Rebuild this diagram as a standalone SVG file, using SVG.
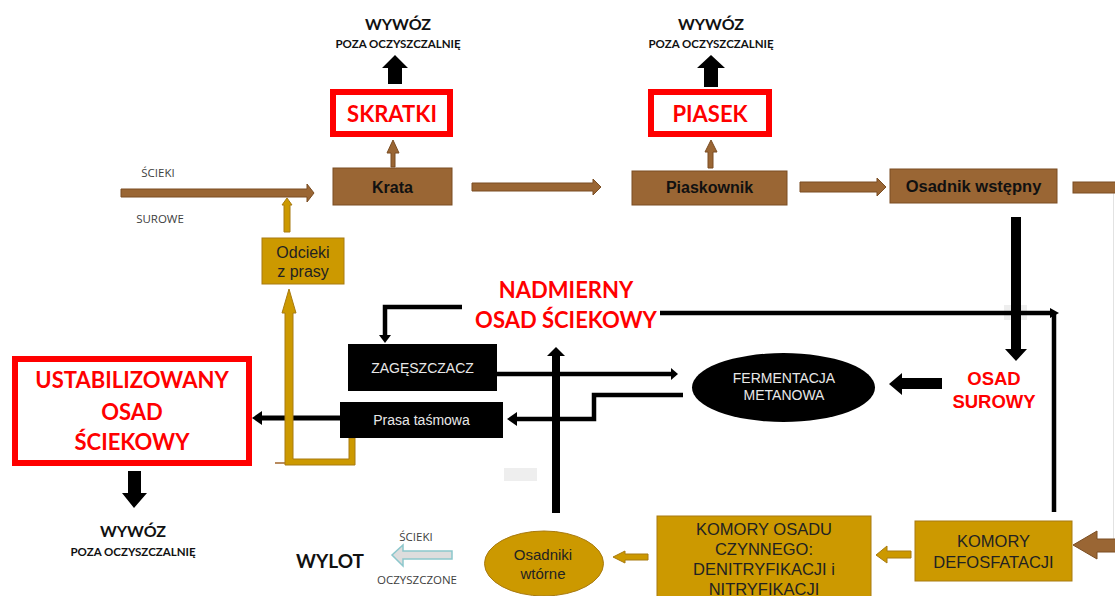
<svg xmlns="http://www.w3.org/2000/svg" width="1115" height="596" viewBox="0 0 1115 596">
<defs>
<style>
.lato{font-family:Lato,"Open Sans","Liberation Sans",sans-serif;font-weight:700}
.ar{font-family:"Liberation Sans",Arial,sans-serif}
.red{fill:#ff0000}
.brown{fill:#9a6634;stroke:#7a4d22;stroke-width:1}
.gold{fill:#cc9900;stroke:#a87a10;stroke-width:1}
.blk{fill:#000}
.redbox{fill:#fff;stroke:#ff0000;stroke-width:6}
.small{font-family:"Open Sans",Lato,"Liberation Sans",sans-serif;font-size:11.5px;fill:#404040}
.line{stroke:#000;stroke-width:4.5;fill:none}
</style>
</defs>
<rect width="1115" height="596" fill="#fff"/>

<g id="artifacts">
<rect x="1004" y="305" width="23" height="15" fill="#eeeeee"/>
<rect x="504" y="468" width="33" height="13" fill="#eeeeee"/>
<line x1="1113.5" y1="193" x2="1113.5" y2="540" stroke="#e2e2e2" stroke-width="1"/>
</g>

<g id="connectors">
<polygon class="brown" points="121,189 307,189 307,184 314,193 307,202 307,197 121,197"/>
<polygon class="brown" points="472,183 593,183 593,179 601,187 593,195 593,191 472,191"/>
<polygon class="brown" points="800,182 877,182 877,178 886,187 877,196 877,192 800,192"/>
<rect class="brown" x="1073" y="182" width="44" height="11"/>
<polygon class="brown" points="391,167 391,153 387,153 393,140 399,153 395,153 395,167"/>
<polygon class="brown" points="708,168 708,152 705,152 711,140 717,152 713,152 713,168"/>
<polygon class="gold" points="284,232 284,205 282,205 287,198 292,205 290,205 290,232"/>
<polygon class="blk" points="388,84 388,68 382,68 395,55 408,68 402,68 402,84"/>
<polygon class="blk" points="704,87 704,68 697,68 711,55 725,68 718,68 718,87"/>
<polygon class="blk" points="128,471 141,471 141,493 147,493 134,508 122,493 128,493"/>
<polygon class="blk" points="1011,217 1021,217 1021,349 1027,349 1016,361 1005,349 1011,349"/>
<polygon class="blk" points="942,378 942,389 902,389 902,395 889,384 902,373 902,378"/>
<polyline class="line" points="462,307 385,307 385,336"/>
<polygon class="blk" points="379,335 391,335 385,343"/>
<line class="line" x1="660" y1="313" x2="1052" y2="313"/>
<polygon class="blk" points="1050,308 1059,313 1050,318"/>
<line class="line" x1="1054" y1="313" x2="1054" y2="512"/>
<line class="line" x1="497" y1="374" x2="672" y2="374"/>
<polygon class="blk" points="671,368 678,374 671,380"/>
<polyline class="line" points="683,395 594,395 594,419 515,419"/>
<polygon class="blk" points="517,412 507,419 517,426"/>
<line x1="556" y1="355" x2="556" y2="513" stroke="#000" stroke-width="8"/>
<polygon class="blk" points="547,356 556,347 565,356"/>
<line x1="340" y1="418" x2="260" y2="418" stroke="#000" stroke-width="5"/>
<polygon class="blk" points="262,411 252,418 262,425"/>
<line x1="275" y1="463" x2="290" y2="463" stroke="#a0642a" stroke-width="1.5"/>
<polygon class="gold" points="349,438 355,438 355,465 285,465 285,313 282,313 289,289 296,313 293,313 293,459 349,459"/>
<polygon fill="#dddddd" stroke="#8cc7cc" stroke-width="1.5" points="452,551 452,559 403,559 403,566 392,555 403,545 403,551"/>
<polygon class="gold" points="648,554 648,560 625,560 625,563 613,557 625,551 625,554"/>
<polygon class="gold" points="911,551 911,558 887,558 887,563 876,555 887,546 887,551"/>
<polygon class="brown" points="1117,539 1097,539 1097,531 1073,545 1097,559 1097,552 1117,552"/>
</g>

<g id="wywoz1">
<text class="lato" x="398" y="30" font-size="16" text-anchor="middle" fill="#111">WYWÓZ</text>
<text class="lato" x="398" y="48" font-size="11.5" text-anchor="middle" fill="#111">POZA OCZYSZCZALNIĘ</text>
</g>
<g id="wywoz2">
<text class="lato" x="711" y="30" font-size="16" text-anchor="middle" fill="#111">WYWÓZ</text>
<text class="lato" x="711" y="48" font-size="11.5" text-anchor="middle" fill="#111">POZA OCZYSZCZALNIĘ</text>
</g>
<g id="wywoz3">
<text class="lato" x="133" y="537" font-size="16" text-anchor="middle" fill="#111">WYWÓZ</text>
<text class="lato" x="133" y="556" font-size="11.5" text-anchor="middle" fill="#111">POZA OCZYSZCZALNIĘ</text>
</g>

<g id="skratki">
<rect class="redbox" x="333" y="92" width="117" height="42"/>
<text class="lato red" x="392" y="122" font-size="22" text-anchor="middle">SKRATKI</text>
</g>
<g id="piasek">
<rect class="redbox" x="651" y="92" width="118" height="42"/>
<text class="lato red" x="710" y="122" font-size="22" text-anchor="middle">PIASEK</text>
</g>

<g id="scieki-surowe">
<text class="small" x="158" y="177" text-anchor="middle">ŚCIEKI</text>
<text class="small" x="160" y="223" text-anchor="middle">SUROWE</text>
</g>

<g id="krata">
<rect class="brown" x="333" y="168" width="119" height="37"/>
<text class="ar" x="392.5" y="193" font-size="16" font-weight="700" text-anchor="middle" fill="#111">Krata</text>
</g>
<g id="piaskownik">
<rect class="brown" x="632" y="171" width="155" height="34"/>
<text class="ar" x="709.5" y="193" font-size="16" font-weight="700" text-anchor="middle" fill="#111">Piaskownik</text>
</g>
<g id="osadnik-wstepny">
<rect class="brown" x="890" y="169" width="167" height="34"/>
<text class="ar" x="973.5" y="192" font-size="16.5" font-weight="700" text-anchor="middle" fill="#111">Osadnik wstępny</text>
</g>

<g id="odcieki">
<rect class="gold" x="262" y="238" width="82" height="46"/>
<text class="ar" x="303" y="258" font-size="16" text-anchor="middle" fill="#222">Odcieki</text>
<text class="ar" x="303" y="277" font-size="16" text-anchor="middle" fill="#222">z prasy</text>
</g>

<g id="nadmierny">
<text class="lato red" x="566" y="298" font-size="22" text-anchor="middle">NADMIERNY</text>
<text class="lato red" x="566" y="328" font-size="22" text-anchor="middle">OSAD ŚCIEKOWY</text>
</g>

<g id="zageszczacz">
<rect x="348" y="344" width="149" height="47" fill="#000"/>
<text class="ar" x="422.5" y="373" font-size="14" text-anchor="middle" fill="#e8e8e8">ZAGĘSZCZACZ</text>
</g>
<g id="prasa">
<rect x="340" y="402" width="163" height="36" fill="#000"/>
<text class="ar" x="421.5" y="425" font-size="14" text-anchor="middle" fill="#e8e8e8">Prasa taśmowa</text>
</g>

<g id="fermentacja">
<ellipse cx="783.5" cy="387.5" rx="91.5" ry="34.5" fill="#000"/>
<text class="ar" x="784" y="383" font-size="14" text-anchor="middle" fill="#e8e8e8">FERMENTACJA</text>
<text class="ar" x="784" y="400" font-size="14" text-anchor="middle" fill="#e8e8e8">METANOWA</text>
</g>

<g id="osad-surowy">
<text class="ar red" x="994" y="385" font-size="18.5" font-weight="700" text-anchor="middle">OSAD</text>
<text class="ar red" x="994" y="408" font-size="18.5" font-weight="700" text-anchor="middle">SUROWY</text>
</g>

<g id="ustabilizowany">
<rect x="15" y="359" width="234" height="104" fill="#fff" stroke="#ff0000" stroke-width="6"/>
<text class="lato red" x="132" y="388" font-size="22" text-anchor="middle">USTABILIZOWANY</text>
<text class="lato red" x="132" y="420" font-size="22" text-anchor="middle">OSAD</text>
<text class="lato red" x="132" y="450" font-size="22" text-anchor="middle">ŚCIEKOWY</text>
</g>

<g id="wylot">
<text class="lato" x="330" y="568" font-size="19" text-anchor="middle" fill="#111">WYLOT</text>
</g>
<g id="scieki-oczyszczone">
<text class="small" x="416" y="541" text-anchor="middle">ŚCIEKI</text>
<text class="small" x="417" y="584" text-anchor="middle">OCZYSZCZONE</text>
</g>

<g id="osadniki-wtorne">
<ellipse class="gold" cx="544" cy="563.5" rx="59.5" ry="32.5"/>
<text class="ar" x="543" y="560" font-size="15" text-anchor="middle" fill="#222">Osadniki</text>
<text class="ar" x="543" y="579" font-size="15" text-anchor="middle" fill="#222">wtórne</text>
</g>

<g id="komory-osadu">
<rect class="gold" x="657" y="516" width="214" height="90"/>
<text class="ar" x="764" y="535" font-size="16.5" text-anchor="middle" fill="#222">KOMORY OSADU</text>
<text class="ar" x="764" y="555" font-size="16.5" text-anchor="middle" fill="#222">CZYNNEGO:</text>
<text class="ar" x="764" y="575" font-size="16.5" text-anchor="middle" fill="#222">DENITRYFIKACJI i</text>
<text class="ar" x="764" y="595" font-size="16.5" text-anchor="middle" fill="#222">NITRYFIKACJI</text>
</g>

<g id="komory-defosfatacji">
<rect class="gold" x="915" y="521" width="157" height="60"/>
<text class="ar" x="993.5" y="547" font-size="16.5" text-anchor="middle" fill="#222">KOMORY</text>
<text class="ar" x="993.5" y="568" font-size="16.5" text-anchor="middle" fill="#222">DEFOSFATACJI</text>
</g>
</svg>
